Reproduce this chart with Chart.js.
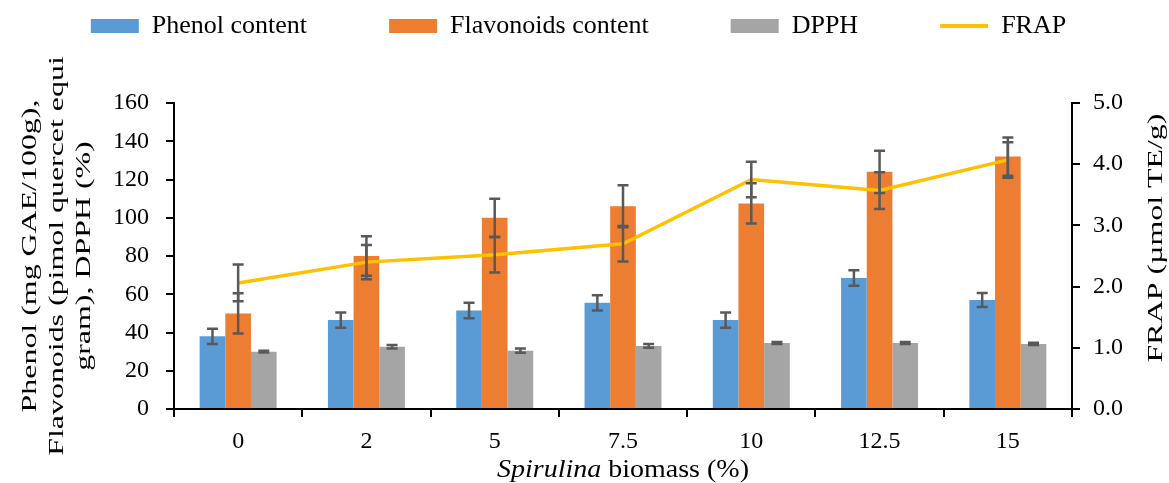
<!DOCTYPE html>
<html>
<head>
<meta charset="utf-8">
<script src="https://cdn.jsdelivr.net/npm/chart.js@4.4.1/dist/chart.umd.min.js"></script>
<style>
	html, body { margin: 0; padding: 0; background: #fff; }
</style>
</head>
<body>
<canvas id="chart" width="1169" height="483"></canvas>
<script>
// data
const categories = ['0', '2', '5', '7.5', '10', '12.5', '15'];
const phenol = [38, 46.5, 51.5, 55.5, 46.5, 68.5, 57];
const phenolErr = [4, 4, 4, 4, 4, 4, 3.7];
const flavonoids = [50, 80, 100, 106, 107.5, 124, 132];
const flavonoidsErr = [10.5, 10.3, 10, 11, 10.5, 11, 10];
const dpph = [30, 32.5, 30.5, 33, 34.5, 34.5, 34];
const dpphErr = [0.5, 0.9, 1.1, 1, 0.5, 0.5, 0.6];
const frap = [2.06, 2.40, 2.52, 2.70, 3.75, 3.57, 4.07];
const frapErr = [0.30, 0.28, 0.29, 0.29, 0.29, 0.30, 0.29];
const leftTicks = { min: 0, max: 160, step: 20 };
const rightTicks = { min: 0, max: 5, step: 0.5 };

const serif = '"Liberation Serif", "Times New Roman", serif';

// error bars, drawn through the scales
const errorBars = {
	id: 'errorBars',
	afterDatasetsDraw(chart) {
		const ctx = chart.ctx;
		ctx.save();
		ctx.strokeStyle = '#595959';
		ctx.lineWidth = 2.5;
		chart.data.datasets.forEach((ds, i) => {
			const meta = chart.getDatasetMeta(i);
			const scale = chart.scales[meta.yAxisID];
			meta.data.forEach((el, j) => {
				const top = scale.getPixelForValue(ds.data[j] + ds.errors[j]);
				const bot = scale.getPixelForValue(ds.data[j] - ds.errors[j]);
				ctx.beginPath();
				ctx.moveTo(el.x, top); ctx.lineTo(el.x, bot);
				ctx.moveTo(el.x - 5.5, top); ctx.lineTo(el.x + 5.5, top);
				ctx.moveTo(el.x - 5.5, bot); ctx.lineTo(el.x + 5.5, bot);
				ctx.stroke();
			});
		});
		ctx.restore();
	}
};

// axis titles (right one reads bottom-up, x one has an italic word)
const axisTitles = {
	id: 'axisTitles',
	afterDraw(chart) {
		const ctx = chart.ctx;
		const area = chart.chartArea;
		ctx.save();
		ctx.fillStyle = '#000';
		ctx.textBaseline = 'middle';
		ctx.textAlign = 'center';

		const vertical = (text, x, y) => {
			ctx.save();
			ctx.translate(x, y);
			ctx.rotate(-Math.PI / 2);
			ctx.scale(1.45, 1);
			ctx.font = '22px ' + serif;
			ctx.fillText(text, 0, 0);
			ctx.restore();
		};
		const midY = (area.top + area.bottom) / 2;
		vertical('Phenol (mg GAE/100g),', 30, midY);
		vertical('Flavonoids (pimol quercet equi', 57, midY);
		vertical('gram), DPPH (%)', 84, midY);
		vertical('FRAP (µmol TE/g)', 1156, midY - 18);

		// x title
		const a = 'Spirulina', b = ' biomass (%)';
		ctx.textAlign = 'left';
		ctx.font = 'italic 25px ' + serif;
		const wa = ctx.measureText(a).width;
		ctx.font = '25px ' + serif;
		const wb = ctx.measureText(b).width;
		ctx.translate((area.left + area.right) / 2, 470);
		ctx.scale(1.12, 1);
		ctx.font = 'italic 25px ' + serif;
		ctx.fillText(a, -(wa + wb) / 2, 0);
		ctx.font = '25px ' + serif;
		ctx.fillText(b, -(wa + wb) / 2 + wa, 0);
		ctx.restore();
	}
};

// legend needs a wide gap between items but a short box
const legendHeight = {
	id: 'legendHeight',
	beforeInit(chart) {
		const fit = chart.legend.fit;
		chart.legend.fit = function() {
			fit.call(this);
			this.height = 172;
		};
	}
};

const axisLine = { display: true, color: '#000', width: 2 };
const tickGrid = { display: true, drawOnChartArea: false, drawTicks: true, tickLength: 8, color: '#000', lineWidth: 2 };
const tickFont = { family: serif, size: 24 };

let ctx = document.getElementById('chart').getContext('2d');
let chart = new Chart(ctx, {
	data: {
		labels: categories,
		datasets: [{
			type: 'bar',
			label: 'Phenol content',
			data: phenol,
			errors: phenolErr,
			backgroundColor: '#5B9BD5',
			yAxisID: 'y',
			order: 1
		}, {
			type: 'bar',
			label: 'Flavonoids content',
			data: flavonoids,
			errors: flavonoidsErr,
			backgroundColor: '#ED7D31',
			yAxisID: 'y',
			order: 1
		}, {
			type: 'bar',
			label: 'DPPH',
			data: dpph,
			errors: dpphErr,
			backgroundColor: '#A5A5A5',
			yAxisID: 'y',
			order: 1
		}, {
			type: 'line',
			label: 'FRAP',
			data: frap,
			errors: frapErr,
			borderColor: '#FFC000',
			backgroundColor: '#FFC000',
			borderWidth: 3.5,
			pointRadius: 0,
			tension: 0,
			yAxisID: 'y1',
			order: 0
		}]
	},
	options: {
		responsive: false,
		animation: false,
		categoryPercentage: 0.6,
		barPercentage: 1.0,
		layout: { padding: { top: -69, left: 0, right: 12, bottom: 0 } },
		plugins: {
			tooltip: { enabled: false },
			legend: {
				position: 'top',
				labels: {
					font: { family: serif, size: 26 },
					color: '#000',
					usePointStyle: true,
					pointStyleWidth: 48,
					boxWidth: 48,
					boxHeight: 14,
					padding: 82,
					sort: (a, b) => a.datasetIndex - b.datasetIndex,
					generateLabels(chart) {
						const items = Chart.defaults.plugins.legend.labels.generateLabels(chart);
						items.forEach(it => {
							const ds = chart.data.datasets[it.datasetIndex];
							if (ds.type === 'line') {
								it.pointStyle = 'line';
								it.strokeStyle = ds.borderColor;
								it.lineWidth = 4;
							} else {
								it.pointStyle = 'rect';
								it.lineWidth = 0;
							}
						});
						return items;
					}
				}
			}
		},
		scales: {
			x: {
				offset: true,
				grid: Object.assign({ offset: true }, tickGrid),
				border: axisLine,
				ticks: { font: tickFont, color: '#000', padding: 10 },
				afterFit: s => { s.height = 74; }
			},
			y: {
				position: 'left',
				min: leftTicks.min,
				max: leftTicks.max,
				grid: tickGrid,
				border: axisLine,
				ticks: { stepSize: leftTicks.step, font: tickFont, color: '#000', padding: 17 },
				afterFit: s => { s.width = 174; }
			},
			y1: {
				position: 'right',
				min: rightTicks.min,
				max: rightTicks.max,
				grid: tickGrid,
				border: axisLine,
				ticks: {
					stepSize: rightTicks.step,
					font: tickFont,
					color: '#000',
					padding: 13,
					callback: v => Number(v).toFixed(1)
				},
				afterFit: s => { s.width = 85; }
			}
		}
	},
	plugins: [errorBars, axisTitles, legendHeight]
});
</script>
</body>
</html>
